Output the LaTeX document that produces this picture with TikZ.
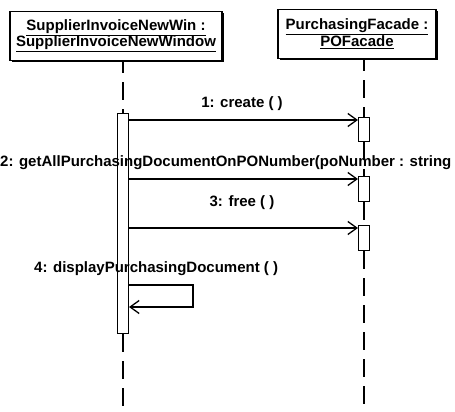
\documentclass[tikz,border=0pt]{standalone}
\usepackage{fontspec}
\setmainfont{Liberation Sans}
\usetikzlibrary{arrows.meta,positioning,calc,shadows}

\begin{document}
\begin{tikzpicture}[
  x=1pt, y=-1pt,
  font=\bfseries\fontsize{15}{16}\selectfont,
  obj/.style={draw, line width=1.3pt, fill=white, align=center, inner xsep=3pt, inner ysep=4pt, minimum height=49pt,
    drop shadow={shadow xshift=1.6pt, shadow yshift=-1.6pt, opacity=1, fill=black}},
  act/.style={draw, line width=1.1pt, fill=white, minimum width=11pt, inner sep=0pt, anchor=north},
  life/.style={line width=1.1pt, dash pattern=on 18pt off 9pt},
  msg/.style={line width=1.1pt, -{Straight Barb[length=9pt,width=13pt,line width=1.3pt]}},
  lbl/.style={inner sep=1pt}
]
  \useasboundingbox (0,0) rectangle (455,412);

  % objects
  \node[obj, minimum width=212pt] (win) at (116,36) {\underline{SupplierInvoiceNewWin :}\\\underline{SupplierInvoiceNewWindow}};
  \node[obj, minimum width=158pt] (facade) at (357,34) {\underline{PurchasingFacade :}\\\underline{POFacade}};

  % activations
  \node[act, minimum height=220pt] (act0) at (123,113) {};
  \node[act, minimum height=24pt] (act1) at (364,117) {};
  \node[act, minimum height=25pt] (act2) at (364,176) {};
  \node[act, minimum height=25pt] (act3) at (364,225) {};
  \coordinate (endL) at (123,412);
  \coordinate (endR) at (364,412);

  % lifelines
  \draw[life, dash phase=6pt] (win.south -| act0.north) -- (act0.north);
  \draw[life] (act0.south) -- (endL);
  \draw[life, dash phase=6pt] (facade.south -| act1.north) -- (act1.north);
  \draw[life] (act1.south) -- (act2.north);
  \draw[life] (act2.south) -- (act3.north);
  \draw[life] (act3.south) -- (endR);

  % messages
  \draw[msg] ([yshift=-3pt]act0.east |- act1.north west) -- ([yshift=-3pt]act1.north west);
  \node[lbl] (m1) at (242,104) {1: create ( )};
  \draw[msg] ([yshift=-3pt]act0.east |- act2.north west) -- ([yshift=-3pt]act2.north west);
  \node[lbl, anchor=west] (m2) at (-1,163) {2: getAllPurchasingDocumentOnPONumber(poNumber : string};
  \draw[msg] ([yshift=-3pt]act0.east |- act3.north west) -- ([yshift=-3pt]act3.north west);
  \node[lbl] (m3) at (242,203) {3: free ( )};

  % self call
  \node[lbl, anchor=west] (m4) at (33,269) {4: displayPurchasingDocument ( )};
  \coordinate (loopA) at (193,285);
  \coordinate (loopB) at (193,307);
  \draw[msg] (act0.east |- loopA) -- (loopA) -- (loopB) -- (act0.east |- loopB);
\end{tikzpicture}
\end{document}
